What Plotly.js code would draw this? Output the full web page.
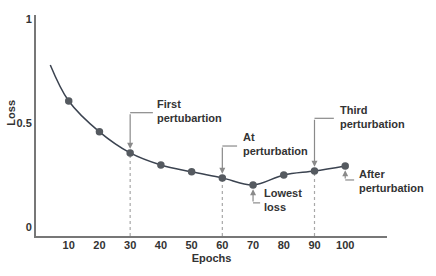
<!DOCTYPE html>
<html>
<head>
<meta charset="utf-8">
<script src="https://cdn.plot.ly/plotly-3.0.1.min.js"></script>
<style>html,body{margin:0;padding:0;background:#fff;}#chart{width:436px;height:276px;}</style>
</head>
<body>
<div id="chart"></div>
<script>
// ---- data ----
const epochs = [10, 20, 30, 40, 50, 60, 70, 80, 90, 100];
const loss = [0.606, 0.458, 0.357, 0.299, 0.266, 0.237, 0.203, 0.251, 0.270, 0.294];
const curveStartEpoch = [4];
const curveStartLoss = [0.779];
const dottedEpochs = [30, 60, 90];
const xTickVals = [10, 20, 30, 40, 50, 60, 70, 80, 90, 100];
const yTickVals = [0, 0.5, 1];
const yTickText = ['0', '0.5', '1'];
const calloutText = ['First<br>pertubartion', 'At<br>perturbation', 'Third<br>perturbation', 'Lowest<br>loss', 'After<br>perturbation'];
const calloutEpochs = [30, 60, 90, 70, 100];
const xTitle = 'Epochs';
const yTitle = 'Loss';

// ---- layout helpers ----
const lossAt = e => loss[epochs.indexOf(e)];
const yMin = -0.042, yMax = 1.019;
const font = {family: 'Liberation Sans, Arial, sans-serif', size: 11, color: '#333', weight: 700};
const grey = '#8a8a8a';

const geo = [
  {tx: 38.1, ty: 0.556, ey: 0.550, ex: 37.4, dir: 1},
  {tx: 66.1, ty: 0.400, ey: 0.390, ex: 64.8, dir: 1},
  {tx: 97.6, ty: 0.527, ey: 0.523, ex: 96.3, dir: 1},
  {tx: 72.9, ty: 0.129, ey: 0.117, ex: 72.3, dir: -1},
  {tx: 103.8, ty: 0.222, ey: 0.227, ex: 102.9, dir: -1}
];

const shapes = [];
const annotations = [];

dottedEpochs.forEach(e => {
  shapes.push({type: 'line', xref: 'x', yref: 'y', x0: e, x1: e, y0: yMin, y1: lossAt(e),
    line: {color: '#a8a8a8', width: 1.2, dash: 'dot'}, layer: 'below'});
});

calloutText.forEach((t, i) => {
  const e = calloutEpochs[i];
  const g = geo[i];
  const tip = lossAt(e) + g.dir * 0.02;
  shapes.push({type: 'line', xref: 'x', yref: 'y', x0: e, x1: g.ex, y0: g.ey, y1: g.ey,
    line: {color: grey, width: 1.2}});
  annotations.push({xref: 'x', yref: 'y', axref: 'x', ayref: 'y', x: e, y: tip, ax: e, ay: g.ey,
    text: '', showarrow: true, arrowhead: 2, arrowsize: 1, arrowwidth: 1.2, arrowcolor: grey, standoff: 0, startstandoff: 0});
  annotations.push({xref: 'x', yref: 'y', x: g.tx, y: g.ty, text: t, showarrow: false,
    xanchor: 'left', yanchor: 'middle', align: 'left', font: font});
});

annotations.push({xref: 'paper', yref: 'paper', x: -0.07, y: 0.56, text: yTitle, textangle: -90,
  showarrow: false, xanchor: 'center', yanchor: 'middle', font: font});

const traces = [
  {x: curveStartEpoch.concat(epochs), y: curveStartLoss.concat(loss), mode: 'lines', type: 'scatter',
   line: {shape: 'spline', smoothing: 1, color: '#3b4350', width: 1.5}, hoverinfo: 'skip'},
  {x: epochs, y: loss, mode: 'markers', type: 'scatter',
   marker: {size: 7.5, color: '#555a60'}}
];

const layout = {
  width: 436, height: 276,
  margin: {l: 36, r: 49, t: 15, b: 40},
  paper_bgcolor: '#fff', plot_bgcolor: '#fff',
  showlegend: false,
  font: font,
  xaxis: {range: [-0.65, 113.6], tickvals: xTickVals, ticks: '', showgrid: false, zeroline: false,
    showline: true, linecolor: '#777', linewidth: 2, tickfont: font, ticklabelstandoff: -2,
    title: {text: xTitle, font: font, standoff: 4}},
  yaxis: {range: [yMin, yMax], tickvals: yTickVals, ticktext: yTickText, ticks: '', showgrid: false, zeroline: false,
    showline: true, linecolor: '#777', linewidth: 2, tickfont: font},
  shapes: shapes,
  annotations: annotations
};

Plotly.newPlot('chart', traces, layout, {displayModeBar: false, staticPlot: true});
</script>
</body>
</html>
